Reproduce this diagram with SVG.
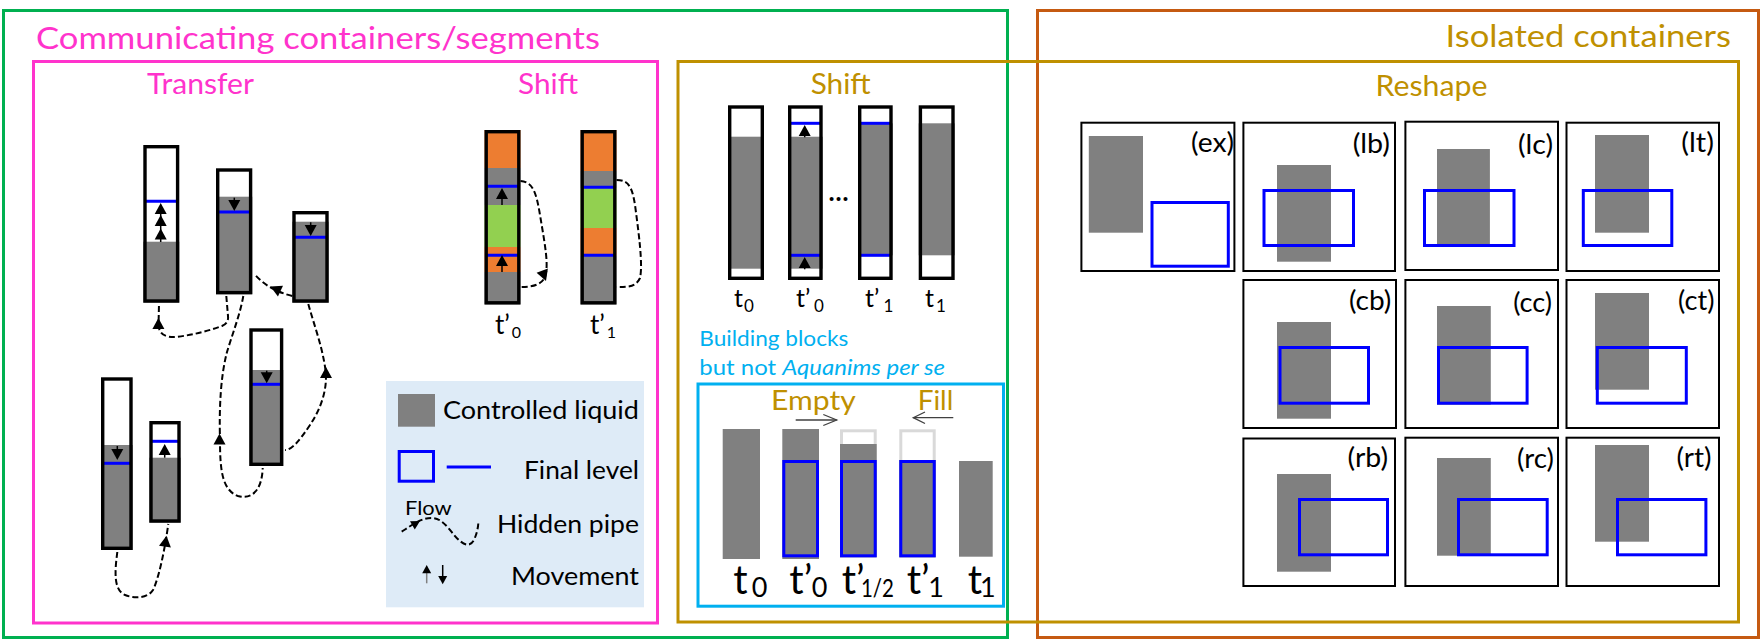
<svg xmlns="http://www.w3.org/2000/svg" width="1762" height="641" viewBox="0 0 1762 641">
<style>
text{font-family:Lato,"Open Sans","Liberation Sans",sans-serif;fill:#000}
.frame{fill:none;stroke-width:3}
.box{fill:none;stroke:#000;stroke-width:3.4}
.rbox{fill:#fff;stroke:#000;stroke-width:2}
.liq{fill:#808080}
.wh{fill:#fff}
.org{fill:#ED7D31}
.grn{fill:#92D050}
.lvl{stroke:#0000FF;stroke-width:3}
.fin{fill:none;stroke:#0000FF;stroke-width:3}
.ghost{fill:none;stroke:#D9D9D9;stroke-width:3}
.pipe{fill:none;stroke:#000;stroke-width:2;stroke-dasharray:6 3}
.stem{stroke:#000;stroke-width:1.5}
.thin{fill:none;stroke:#404040;stroke-width:1.3}
.pink{fill:#FF33CC}
.gold{fill:#BF9000}
.cyan{fill:#00B0F0}
.rl{font-size:27px}
</style>
<defs>
<polygon id="ah" points="0,0 6,11 -6,11"/>
</defs>
<rect width="1762" height="641" fill="#fff"/>

<g id="frames">
<rect class="frame" x="3.5" y="10.5" width="1004" height="627" stroke="#00B050"/>
<rect class="frame" x="1037.5" y="10.5" width="721" height="627" stroke="#C55A11"/>
<rect class="frame" x="33.5" y="61.5" width="624" height="561.5" stroke="#FF33CC"/>
<rect class="frame" x="678" y="61.5" width="1060.5" height="560.5" stroke="#BF9000"/>
<rect class="frame" x="698" y="384" width="305.5" height="222.2" stroke="#00B0F0"/>
</g>

<g id="titles">
<text class="pink" x="36" y="49" font-size="31" textLength="564" lengthAdjust="spacingAndGlyphs">Communicating containers/segments</text>
<text class="gold" x="1445.5" y="46.7" font-size="30" textLength="285.5" lengthAdjust="spacingAndGlyphs">Isolated containers</text>
<text class="pink" x="147" y="94.3" font-size="28" textLength="107" lengthAdjust="spacingAndGlyphs">Transfer</text>
<text class="pink" x="518" y="94.3" font-size="28" textLength="60" lengthAdjust="spacingAndGlyphs">Shift</text>
<text class="gold" x="810.7" y="94.3" font-size="28" textLength="60" lengthAdjust="spacingAndGlyphs">Shift</text>
<text class="gold" x="1375.5" y="96" font-size="28" textLength="112" lengthAdjust="spacingAndGlyphs">Reshape</text>
<text class="cyan" x="699.3" y="346" font-size="21" textLength="149" lengthAdjust="spacingAndGlyphs">Building blocks</text>
<text class="cyan" x="699.3" y="375" font-size="21" textLength="245.7" lengthAdjust="spacingAndGlyphs">but not <tspan font-style="italic">Aquanims per se</tspan></text>
<text class="gold" x="771" y="410" font-size="26" textLength="84.7" lengthAdjust="spacingAndGlyphs">Empty</text>
<text class="gold" x="917.7" y="410" font-size="26" textLength="35.6" lengthAdjust="spacingAndGlyphs">Fill</text>
</g>

<!-- Transfer containers -->
<g id="c1">
<rect class="wh" x="143.3" y="145" width="36" height="157.7"/>
<rect class="liq" x="143.3" y="241.7" width="36" height="61"/>
<line class="lvl" x1="145" x2="177.6" y1="201.3" y2="201.3"/>
<line class="stem" x1="160.7" y1="242" x2="160.7" y2="210"/>
<use href="#ah" transform="translate(160.7,203)"/>
<use href="#ah" transform="translate(160.7,215)"/>
<use href="#ah" transform="translate(160.7,228.5)"/>
<rect class="box" x="145" y="146.7" width="32.6" height="154.3"/>
</g>
<g id="c2">
<rect class="wh" x="216" y="168.3" width="36.3" height="126"/>
<rect class="liq" x="216" y="196.7" width="36.3" height="97.6"/>
<line class="lvl" x1="217.7" x2="250.6" y1="212" y2="212"/>
<line class="stem" x1="234.3" y1="197.7" x2="234.3" y2="204"/>
<use href="#ah" transform="translate(234.3,211) rotate(180)"/>
<rect class="box" x="217.7" y="170" width="32.9" height="122.6"/>
</g>
<g id="c3">
<rect class="wh" x="292.3" y="211" width="36.4" height="91.7"/>
<rect class="liq" x="292.3" y="221.7" width="36.4" height="81"/>
<line class="lvl" x1="294" x2="327" y1="237.3" y2="237.3"/>
<line class="stem" x1="310.7" y1="222.3" x2="310.7" y2="228"/>
<use href="#ah" transform="translate(310.7,236) rotate(180)"/>
<rect class="box" x="294" y="212.7" width="33" height="88.3"/>
</g>
<g id="c4">
<rect class="wh" x="101" y="377.3" width="31.7" height="172.7"/>
<rect class="liq" x="101" y="445" width="31.7" height="105"/>
<line class="lvl" x1="102.7" x2="131" y1="463.3" y2="463.3"/>
<line class="stem" x1="117.3" y1="446" x2="117.3" y2="452"/>
<use href="#ah" transform="translate(117.3,460) rotate(180)"/>
<rect class="box" x="102.7" y="379" width="28.3" height="169.3"/>
</g>
<g id="c5">
<rect class="wh" x="149.3" y="421" width="31.4" height="101.7"/>
<rect class="liq" x="149.3" y="457.7" width="31.4" height="65"/>
<line class="lvl" x1="151" x2="179" y1="441.3" y2="441.3"/>
<line class="stem" x1="164.7" y1="457.7" x2="164.7" y2="450"/>
<use href="#ah" transform="translate(164.7,444)"/>
<rect class="box" x="151" y="422.7" width="28" height="98.3"/>
</g>
<g id="c6">
<rect class="wh" x="249.3" y="328.3" width="34" height="137.7"/>
<rect class="liq" x="249.3" y="370" width="34" height="96"/>
<line class="lvl" x1="251" x2="281.6" y1="384.3" y2="384.3"/>
<line class="stem" x1="266.7" y1="370.7" x2="266.7" y2="376"/>
<use href="#ah" transform="translate(266.7,383.3) rotate(180)"/>
<rect class="box" x="251" y="330" width="30.6" height="134.3"/>
</g>

<!-- Pink shift containers -->
<g id="s1">
<rect class="org" x="484.5" y="130" width="36" height="38"/>
<rect class="liq" x="484.5" y="168" width="36" height="37"/>
<rect class="grn" x="484.5" y="205" width="36" height="42"/>
<rect class="org" x="484.5" y="247" width="36" height="25"/>
<rect class="liq" x="484.5" y="272" width="36" height="32.5"/>
<line class="lvl" x1="486" x2="519" y1="186.3" y2="186.3"/>
<line class="lvl" x1="486" x2="519" y1="255.3" y2="255.3"/>
<line class="stem" x1="502" y1="205" x2="502" y2="195"/>
<use href="#ah" transform="translate(502,188)"/>
<line class="stem" x1="502" y1="272" x2="502" y2="262"/>
<use href="#ah" transform="translate(502,255)"/>
<rect class="box" x="486.2" y="131.7" width="32.6" height="171.1"/>
</g>
<g id="s2">
<rect class="org" x="580.5" y="130" width="36" height="41"/>
<rect class="liq" x="580.5" y="171" width="36" height="17"/>
<rect class="grn" x="580.5" y="188" width="36" height="40"/>
<rect class="org" x="580.5" y="228" width="36" height="27.3"/>
<rect class="liq" x="580.5" y="255.3" width="36" height="49.2"/>
<line class="lvl" x1="582" x2="615" y1="187.3" y2="187.3"/>
<line class="lvl" x1="582" x2="615" y1="255.3" y2="255.3"/>
<rect class="box" x="582.2" y="131.7" width="32.6" height="171.1"/>
</g>
<g id="s-labels">
<text x="495" y="334.3" font-size="26">t’<tspan x="511.7" y="338.3" font-size="16">0</tspan></text>
<text x="590" y="334.3" font-size="26">t’<tspan x="606.7" y="338.3" font-size="16">1</tspan></text>
</g>

<!-- Gold shift containers -->
<g id="t0">
<rect class="wh" x="728" y="105.3" width="36" height="174.7"/>
<rect class="liq" x="728" y="136.7" width="36" height="132"/>
<rect class="box" x="729.7" y="107" width="32.6" height="171.3"/>
</g>
<g id="tp0">
<rect class="wh" x="788" y="105.3" width="34.7" height="174.7"/>
<rect class="liq" x="788" y="136.7" width="34.7" height="132"/>
<line class="lvl" x1="789.7" x2="821" y1="123.3" y2="123.3"/>
<line class="lvl" x1="789.7" x2="821" y1="255.3" y2="255.3"/>
<line class="stem" x1="804.7" y1="137.3" x2="804.7" y2="131"/>
<use href="#ah" transform="translate(804.7,125)"/>
<line class="stem" x1="804.7" y1="269.3" x2="804.7" y2="263"/>
<use href="#ah" transform="translate(804.7,257)"/>
<rect class="box" x="789.7" y="107" width="31.3" height="171.3"/>
</g>
<g id="tp1">
<rect class="wh" x="858" y="105.3" width="34.7" height="174.7"/>
<rect class="liq" x="858" y="123.3" width="34.7" height="132"/>
<line class="lvl" x1="859.7" x2="891" y1="123.3" y2="123.3"/>
<line class="lvl" x1="859.7" x2="891" y1="255.3" y2="255.3"/>
<rect class="box" x="859.7" y="107" width="31.3" height="171.3"/>
</g>
<g id="t1">
<rect class="wh" x="918.7" y="105.3" width="36" height="174.7"/>
<rect class="liq" x="918.7" y="123.3" width="36" height="132"/>
<rect class="box" x="920.4" y="107" width="32.6" height="171.3"/>
</g>
<g id="shift-labels">
<text x="828.5" y="201" font-size="26" font-weight="bold">…</text>
<text x="734" y="306.7" font-size="25">t<tspan x="744" y="311.7" font-size="17">0</tspan></text>
<text x="796" y="306.7" font-size="25">t’<tspan x="814" y="311.7" font-size="17">0</tspan></text>
<text x="865" y="306.7" font-size="25">t’<tspan x="883.5" y="311.7" font-size="17">1</tspan></text>
<text x="925" y="306.7" font-size="25">t<tspan x="936" y="311.7" font-size="17">1</tspan></text>
</g>

<!-- Empty / Fill building blocks -->
<g id="ef-arrows">
<line class="thin" x1="795.7" y1="420" x2="836.7" y2="420"/>
<polyline class="thin" points="823.3,414.5 836.7,420 823.3,425.5"/>
<line class="thin" x1="953.3" y1="417.7" x2="913.3" y2="417.7"/>
<polyline class="thin" points="925,412 913.3,417.7 925,423.5"/>
</g>
<g id="b0"><rect class="liq" x="722.7" y="429" width="37.3" height="130"/></g>
<g id="b1">
<rect class="liq" x="782.3" y="429" width="36.7" height="130"/>
<rect class="fin" x="783.8" y="461.5" width="33.7" height="94.3"/>
</g>
<g id="b2">
<rect class="ghost" x="841.5" y="430.8" width="33.7" height="125"/>
<rect class="liq" x="840" y="444" width="36.7" height="113.3"/>
<rect class="fin" x="841.5" y="461.5" width="33.7" height="94.3"/>
</g>
<g id="b3">
<rect class="ghost" x="900.8" y="430.8" width="33.4" height="125"/>
<rect class="liq" x="899.3" y="460" width="36.4" height="97.3"/>
<rect class="fin" x="900.8" y="461.5" width="33.4" height="94.3"/>
</g>
<g id="b4"><rect class="liq" x="959" y="461" width="33.7" height="95.7"/></g>
<g id="ef-labels">
<text x="733.3" y="594" font-size="40">t<tspan x="751.7" y="596.7" font-size="27">0</tspan></text>
<text x="789.3" y="594" font-size="40">t’<tspan x="811.7" y="596.7" font-size="27">0</tspan></text>
<text x="841.7" y="594" font-size="40">t’<tspan x="861" y="596.7" font-size="25" textLength="33" lengthAdjust="spacingAndGlyphs">1/2</tspan></text>
<text x="906.7" y="594" font-size="40">t’<tspan x="928.3" y="596.7" font-size="27">1</tspan></text>
<text x="967.7" y="594" font-size="40">t<tspan x="980" y="596.7" font-size="27">1</tspan></text>
</g>

<!-- Legend -->
<g id="legend">
<rect x="386" y="381" width="258" height="226.3" fill="#DEEBF7"/>
<rect class="liq" x="398" y="394" width="37" height="32.7"/>
<text x="443" y="418.7" font-size="24.5" textLength="196" lengthAdjust="spacingAndGlyphs">Controlled liquid</text>
<rect class="fin" x="399.2" y="451.5" width="34.3" height="29.7"/>
<line class="lvl" x1="446.7" x2="491" y1="467" y2="467"/>
<text x="524" y="479.3" font-size="24.5" textLength="115" lengthAdjust="spacingAndGlyphs">Final level</text>
<text x="405" y="515" font-size="20" textLength="46.7" lengthAdjust="spacingAndGlyphs">Flow</text>
<path class="pipe" d="M401.7,531.7 C412,525 422,517 433,518 C445,519 452,535 460,541 C466,546 471,546 474,540 C477,533 478,528 478.3,523.3"/>
<use href="#ah" transform="translate(420,521) rotate(60) scale(0.8)"/>
<text x="497" y="533.3" font-size="24.5" textLength="142" lengthAdjust="spacingAndGlyphs">Hidden pipe</text>
<line x1="426.7" y1="583.3" x2="426.7" y2="571" stroke="#808080" stroke-width="1.5"/>
<use href="#ah" transform="translate(426.7,565) scale(0.75)"/>
<line class="stem" x1="442.7" y1="565" x2="442.7" y2="576"/>
<use href="#ah" transform="translate(442.7,584.3) rotate(180) scale(0.75)"/>
<text x="511" y="585" font-size="24.5" textLength="128" lengthAdjust="spacingAndGlyphs">Movement</text>
</g>

<!-- Connectors (hidden pipes) -->
<g id="connectors">
<path class="pipe" d="M226.3,296 L228,316 Q229,323 222,326 Q200,334 176,337 Q160,338 158.5,326 L159,304"/>
<use href="#ah" transform="translate(158.4,318)"/>
<path class="pipe" d="M243.3,296 C240,315 232,335 227,352 C221,375 219,405 220,440 C220,470 222,490 238,496 C252,500 262,490 262.7,468"/>
<use href="#ah" transform="translate(219.5,433.5)"/>
<path class="pipe" d="M308.3,304 C314,325 322,345 325.5,370 C328,390 320,410 310,425 C300,440 292,450 285,450"/>
<use href="#ah" transform="translate(326,367)"/>
<path class="pipe" d="M292.3,296 Q268,290 254.3,274"/>
<use href="#ah" transform="translate(270.5,286.5) rotate(-65)"/>
<path class="pipe" d="M117.3,552 C115,570 113,590 125,595 C135,599 148,598 153,590 C158,580 164,555 168.3,524"/>
<use href="#ah" transform="translate(166.5,535.7) rotate(8)"/>
<path class="pipe" d="M520.5,181 C532,182 536,190 540,215 C545,245 549,265 545,277 C541,286 530,287 520.5,287"/>
<use href="#ah" transform="translate(546,281) rotate(160)"/>
<path class="pipe" d="M616.5,180 C628,180 632,186 635,205 C639,235 643,265 640,278 C636,287 628,287 616.5,287"/>
</g>

<!-- Reshape -->
<g id="ex">
<rect class="rbox" x="1081.4" y="122.7" width="153" height="148.3"/>
<rect class="liq" x="1088.8" y="136" width="54.2" height="96.7"/>
<rect class="fin" x="1152" y="202.5" width="76.3" height="63.7"/>
<text class="rl" x="1234" y="152" text-anchor="end" textLength="43" lengthAdjust="spacingAndGlyphs">(ex)</text>
</g>
<g id="lb">
<rect class="rbox" x="1243.4" y="122.7" width="151.6" height="148.3"/>
<rect class="liq" x="1277" y="165" width="54" height="96.7"/>
<rect class="fin" x="1264" y="190.5" width="89.5" height="55"/>
<text class="rl" x="1390" y="152.5" text-anchor="end" textLength="37.3" lengthAdjust="spacingAndGlyphs">(lb)</text>
</g>
<g id="lc">
<rect class="rbox" x="1405.4" y="121.7" width="152.6" height="148.3"/>
<rect class="liq" x="1437" y="149" width="52.9" height="97"/>
<rect class="fin" x="1424.5" y="190.5" width="89.5" height="55"/>
<text class="rl" x="1553" y="154" text-anchor="end" textLength="35" lengthAdjust="spacingAndGlyphs">(lc)</text>
</g>
<g id="lt">
<rect class="rbox" x="1566.5" y="122.7" width="152.5" height="148.3"/>
<rect class="liq" x="1595" y="135" width="54" height="97.7"/>
<rect class="fin" x="1583.3" y="190.5" width="88.5" height="55"/>
<text class="rl" x="1714" y="152" text-anchor="end" textLength="32.7" lengthAdjust="spacingAndGlyphs">(lt)</text>
</g>
<g id="cb">
<rect class="rbox" x="1243.4" y="280" width="152.6" height="148"/>
<rect class="liq" x="1277" y="322" width="54" height="96.7"/>
<rect class="fin" x="1280" y="347.5" width="88.5" height="55.7"/>
<text class="rl" x="1391.3" y="310" text-anchor="end" textLength="42.4" lengthAdjust="spacingAndGlyphs">(cb)</text>
</g>
<g id="cc">
<rect class="rbox" x="1405.4" y="280" width="152.6" height="148"/>
<rect class="liq" x="1437" y="306" width="53.8" height="98.7"/>
<rect class="fin" x="1438.5" y="347.5" width="88.6" height="55.7"/>
<text class="rl" x="1552" y="311.7" text-anchor="end" textLength="38.8" lengthAdjust="spacingAndGlyphs">(cc)</text>
</g>
<g id="ct">
<rect class="rbox" x="1566.5" y="280" width="152.5" height="148"/>
<rect class="liq" x="1595" y="293" width="54" height="96.7"/>
<rect class="fin" x="1597.3" y="347.5" width="89" height="55.7"/>
<text class="rl" x="1714.4" y="310" text-anchor="end" textLength="36.4" lengthAdjust="spacingAndGlyphs">(ct)</text>
</g>
<g id="rb">
<rect class="rbox" x="1243.4" y="438.5" width="151.6" height="147.5"/>
<rect class="liq" x="1277" y="474" width="54" height="97.7"/>
<rect class="fin" x="1299.5" y="499.5" width="88" height="55.3"/>
<text class="rl" x="1388" y="466.7" text-anchor="end" textLength="40.5" lengthAdjust="spacingAndGlyphs">(rb)</text>
</g>
<g id="rc">
<rect class="rbox" x="1405.4" y="437.7" width="152.6" height="148.3"/>
<rect class="liq" x="1437" y="458" width="53.8" height="97.7"/>
<rect class="fin" x="1458.5" y="499.5" width="88.7" height="55.3"/>
<text class="rl" x="1553.8" y="468" text-anchor="end" textLength="36.8" lengthAdjust="spacingAndGlyphs">(rc)</text>
</g>
<g id="rt">
<rect class="rbox" x="1566.5" y="437.7" width="152.5" height="148.3"/>
<rect class="liq" x="1595" y="445" width="54" height="96.7"/>
<rect class="fin" x="1617.5" y="499.5" width="88.4" height="55.3"/>
<text class="rl" x="1711.6" y="466.7" text-anchor="end" textLength="35" lengthAdjust="spacingAndGlyphs">(rt)</text>
</g>
</svg>
